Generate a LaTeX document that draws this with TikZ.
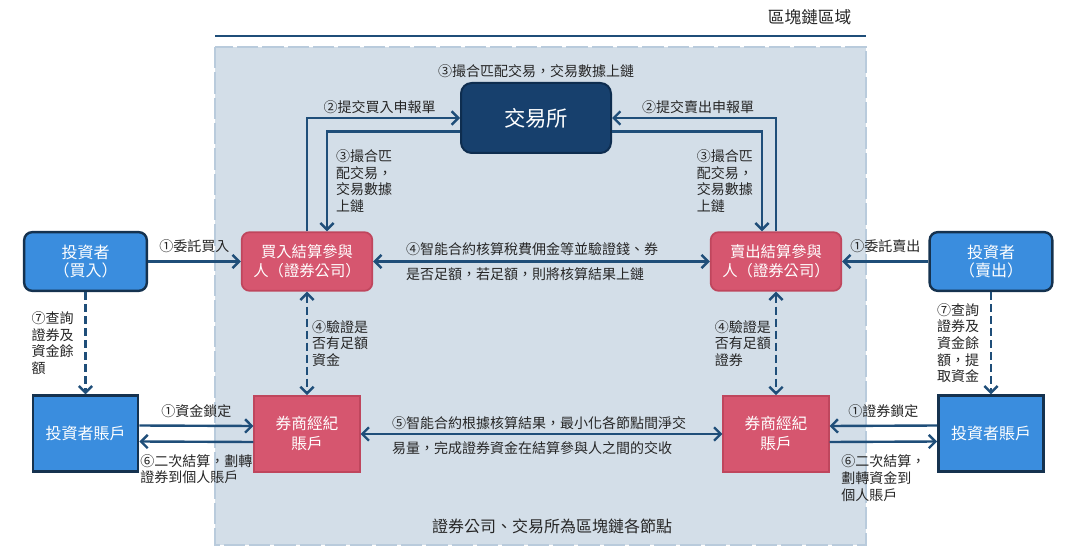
\documentclass[tikz,border=0pt]{standalone}
\usepackage{fontspec}
\setmainfont{Noto Sans CJK TC}
\usetikzlibrary{arrows.meta, positioning}

\definecolor{navy}{HTML}{1F4E79}
\definecolor{xchgfill}{HTML}{17406D}
\definecolor{xchgline}{HTML}{0E2D4F}
\definecolor{pinkfill}{HTML}{D6566F}
\definecolor{pinkline}{HTML}{BF465D}
\definecolor{bluefill}{HTML}{3A8DDE}
\definecolor{blueline}{HTML}{15324F}
\definecolor{zonefill}{HTML}{D3DEE8}
\definecolor{zoneline}{HTML}{B9CBDC}
\definecolor{txt}{HTML}{262626}

\tikzset{
  lbl/.style={font=\fontsize{10.5}{12.5}\selectfont, text=txt, inner sep=1pt},
  xchg/.style={draw=xchgline, fill=xchgfill, line width=1.5pt, rounded corners=8pt,
    minimum width=112.5pt, minimum height=52.5pt, text=white,
    font=\fontsize{16}{18}\selectfont},
  clear/.style={draw=pinkline, fill=pinkfill, line width=1.3pt, rounded corners=6pt,
    minimum width=98pt, minimum height=44pt, text=white, align=center,
    font=\fontsize{11.5}{14}\selectfont},
  investor/.style={draw=blueline, fill=bluefill, line width=1.8pt, rounded corners=6pt,
    minimum width=92pt, minimum height=44pt, text=white, align=center,
    font=\fontsize{12}{14}\selectfont},
  broker/.style={draw=pinkline, fill=pinkfill, line width=1.3pt,
    minimum width=79pt, minimum height=57pt, text=white, align=center,
    font=\fontsize{11.8}{15}\selectfont},
  account/.style={draw=blueline, fill=bluefill, line width=1.8pt,
    minimum width=79pt, minimum height=57pt, text=white,
    font=\fontsize{12}{14}\selectfont},
  flow/.style={draw=navy, line width=1.8pt, -{Straight Barb[length=5pt,width=10pt]}},
  flow2/.style={flow, {Straight Barb[length=5pt,width=10pt]}-{Straight Barb[length=5pt,width=10pt]}},
  query/.style={flow, dash pattern=on 6pt off 3pt},
  check/.style={flow2, dash pattern=on 6pt off 3pt}
}

\begin{document}
\begin{tikzpicture}[x=0.75pt, y=-0.75pt]
  \useasboundingbox (0,0) rectangle (1080,559);

  % blockchain zone
  \fill[zonefill] (215,47) rectangle (866,545);
  \draw[zoneline, line width=1.8pt, dash pattern=on 16pt off 3pt] (215,47) rectangle (866,545);
  \draw[navy, line width=2.2pt] (215,36) -- (866,36);
  \node[text=txt, font=\fontsize{12.5}{15}\selectfont, anchor=east] (zonetitle) at (856,17) {區塊鏈區域};
  \node[text=txt, font=\fontsize{12}{15}\selectfont] (zonenote) at (552,526) {證券公司、交易所為區塊鏈各節點};

  % parties
  \node[xchg] (xchg) at (536,118) {交易所};
  \node[clear] (buyclr) at (307,261.5) {買入結算參與\\人（證券公司）};
  \node[clear] (sellclr) at (776,261.5) {賣出結算參與\\人（證券公司）};
  \node[investor] (invbuy) at (85.5,261.5) {投資者\\（買入）};
  \node[investor] (invsell) at (991,261.5) {投資者\\（賣出）};
  \node[broker] (brokl) at (307,434) {券商經紀\\賬戶};
  \node[broker] (brokr) at (776,434) {券商經紀\\賬戶};
  \node[account] (accl) at (85.5,433.5) {投資者賬戶};
  \node[account] (accr) at (991,433.5) {投資者賬戶};

  \node[lbl, above=2pt of xchg] (lmatch) {③撮合匹配交易，交易數據上鏈};

  % orders and matching
  \draw[flow] (buyclr.north) |- node[lbl, pos=0.75, above=1pt, xshift=-3pt] (lbuyord) {②提交買入申報單} (xchg.west);
  \draw[flow] ([yshift=-10pt]xchg.west) -| node[lbl, pos=0.75, right=5pt, align=left] (lbuymatch) {③撮合匹\\配交易，\\交易數據\\上鏈} ([xshift=15pt]buyclr.north);
  \draw[flow] (sellclr.north) |- node[lbl, pos=0.75, above=1pt, xshift=3pt] (lsellord) {②提交賣出申報單} (xchg.east);
  \draw[flow] ([yshift=-10pt]xchg.east) -| node[lbl, pos=0.75, left=5pt, align=left] (lsellmatch) {③撮合匹\\配交易，\\交易數據\\上鏈} ([xshift=-10.5pt]sellclr.north);

  \draw[flow2] (buyclr) -- node[lbl, pos=0.09, anchor=south west, yshift=2.75pt] (lcalca) {④智能合約核算稅費佣金等並驗證錢、券}
    node[lbl, pos=0.09, anchor=north west, yshift=-2.75pt] (lcalcb) {是否足額，若足額，則將核算結果上鏈} (sellclr);

  \draw[flow] (invbuy) -- node[lbl, above=5pt] (lentbuy) {①委託買入} (buyclr);
  \draw[flow] (invsell) -- node[lbl, above=5pt] (lentsell) {①委託賣出} (sellclr);

  % queries and checks
  \draw[query] (invbuy) -- node[lbl, left=7pt, align=left] (lqrybuy) {⑦查詢\\證券及\\資金餘\\額} (accl);
  \draw[query] (invsell) -- node[lbl, left=7pt, align=left] (lqrysell) {⑦查詢\\證券及\\資金餘\\額，提\\取資金} (accr);
  \draw[check] (buyclr) -- node[lbl, right=2pt, align=left] (lchkbuy) {④驗證是\\否有足額\\資金} (brokl);
  \draw[check] (sellclr) -- node[lbl, left=2pt, align=left] (lchksell) {④驗證是\\否有足額\\證券} (brokr);

  % locking and settlement
  \draw[flow] ([yshift=6pt]accl.east) -- node[lbl, above=4pt] (llockl) {①資金鎖定} ([yshift=6pt]brokl.west);
  \draw[flow] ([yshift=-6pt]brokl.west) -- node[lbl, below=7.5pt, align=left] (lsetl) {⑥二次結算，劃轉\\證券到個人賬戶} ([yshift=-6pt]accl.east);
  \draw[flow] ([yshift=6pt]accr.west) -- node[lbl, above=4pt] (llockr) {①證券鎖定} ([yshift=6pt]brokr.east);
  \draw[flow] ([yshift=-6pt]brokr.east) -- node[lbl, below=8pt, align=left] (lsetr) {⑥二次結算，\\劃轉資金到\\個人賬戶} ([yshift=-6pt]accr.west);

  \draw[flow2] (brokl) -- node[lbl, pos=0.08, anchor=south west, yshift=1.5pt] (lnetta) {⑤智能合約根據核算結果，最小化各節點間淨交}
    node[lbl, pos=0.08, anchor=north west, yshift=-4pt] (lnettb) {易量，完成證券資金在結算參與人之間的交收} (brokr);
\end{tikzpicture}
\end{document}
